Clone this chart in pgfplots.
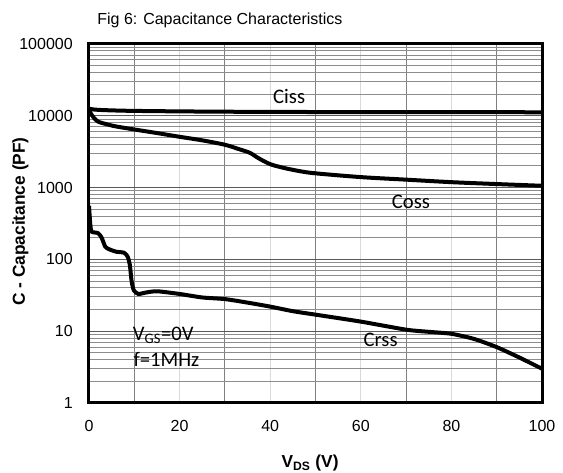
\documentclass[border=0pt]{standalone}
\usepackage{pgfplots}
\pgfplotsset{compat=1.18}
\usepackage{fontspec}
\setmainfont{Liberation Sans}
\newfontfamily\calib{Carlito}
\begin{document}
\begin{tikzpicture}
\begin{axis}[name=ax, scale only axis, width=339.75pt, height=269.25pt,
 ymode=log, xmin=0, xmax=100, ymin=1, ymax=100000,
 xtick={0,20,40,60,80,100}, xticklabels={0,20,40,60,80,100},
 minor xtick={10,30,50,70,90},
 ytick={1,10,100,1000,10000,100000}, yticklabels={1,10,100,1000,10000,100000},
 major tick length=0pt, minor tick length=0pt,
 grid=both,
 major x grid style={color=black!15, line width=0.75pt},
 minor x grid style={color=black!50, line width=0.75pt},
 major y grid style={color=black!65, line width=0.75pt},
 minor y grid style={color=black!45, line width=0.75pt},
 axis line style={line width=2.25pt},
 tick label style={font=\fontsize{12pt}{14pt}\selectfont, inner sep=0pt},
 yticklabel style={anchor=east, xshift=-12pt},
 xticklabel style={anchor=north, yshift=-12.75pt},
 /pgf/number format/assume math mode=true,
 clip=false,
]
% Ciss
\addplot[black, line width=3pt, smooth, tension=0.5] coordinates {
(0,12600) (2,12100) (10,11700) (30,11400) (60,11250) (100,11200)};
% Coss
\addplot[black, line width=3pt, smooth, tension=0.5] coordinates {
(0,12000) (0.5,10500) (1,9500) (2,8300) (4,7600) (6,7100) (10,6450) (15,5750)
(20,5100) (25,4550) (30,3950) (33,3450) (35.5,3050) (37.5,2550) (40,2120)
(43,1880) (46.6,1690) (50,1580) (60,1400) (70,1290) (80,1190) (90,1120) (100,1060)};
% Crss
\addplot[black, line width=3pt, smooth, tension=0.4] coordinates {
(0,560) (0.3,300) (0.6,243) (2,232) (2.8,200) (3.6,150) (4.5,138) (6,128)
(7.7,124) (8.5,110) (9,85) (9.4,50) (9.9,37) (10.9,33) (12.5,34.5) (15,36)
(20,33) (25,29.5) (30,28) (35,25) (40,22) (45,19) (50,17) (60,13.6) (70,10.5)
(75,9.8) (80,9.2) (85,7.8) (90,6) (95,4.3) (100,3)};
\node[anchor=base west, inner sep=0pt, font=\calib\fontsize{15.5pt}{18pt}\selectfont] at (axis cs:40.6,15070) {Ciss};
\node[anchor=base west, inner sep=0pt, font=\calib\fontsize{15.5pt}{18pt}\selectfont] at (axis cs:66.8,515) {Coss};
\node[anchor=base west, inner sep=0pt, font=\calib\fontsize{15.5pt}{18pt}\selectfont] at (axis cs:60.55,6.08) {Crss};
\node[anchor=base west, inner sep=0pt, font=\calib\fontsize{15.5pt}{18pt}\selectfont] at (axis cs:9.65,7.38) {V\textsubscript{GS}=0V};
\node[anchor=base west, inner sep=0pt, font=\calib\fontsize{15.5pt}{18pt}\selectfont] at (axis cs:9.78,3.27) {f=1MHz};
\node[anchor=base, inner sep=0pt, font=\fontsize{12pt}{14pt}\selectfont] at (axis cs:28.9,184000) {Fig 6: Capacitance Characteristics};
\node[anchor=base, rotate=90, inner sep=0pt, font=\bfseries\fontsize{13pt}{15pt}\selectfont] at (axis cs:-14.13,337) {C - Capacitance (PF)};
\node[anchor=base, inner sep=0pt, font=\bfseries\fontsize{13pt}{15pt}\selectfont] at (axis cs:48.8,0.1256) {V\textsubscript{DS} (V)};
\end{axis}
\pgfresetboundingbox
\path[use as bounding box] ([xshift=-66.75pt,yshift=-52.5pt]ax.south west) rectangle ([xshift=15.75pt,yshift=33pt]ax.north east);
\end{tikzpicture}
\end{document}
